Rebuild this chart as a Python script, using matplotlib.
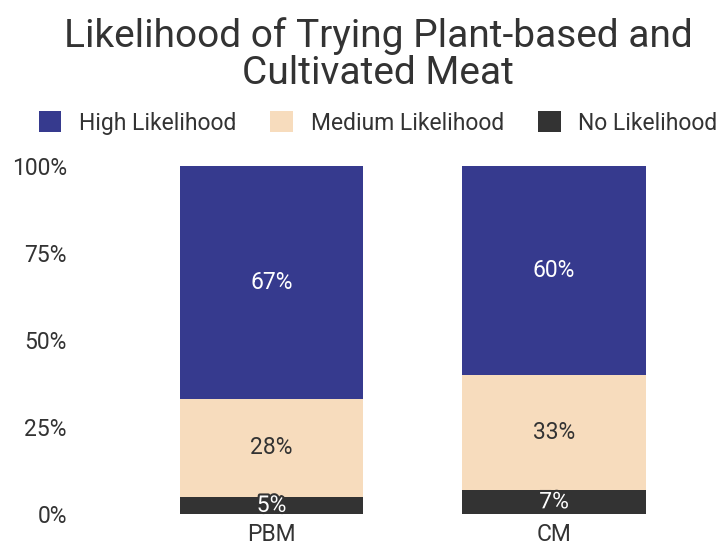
import matplotlib.pyplot as plt
import matplotlib.patheffects as pe
from matplotlib.patches import Patch

plt.rcParams['font.family'] = ['Roboto', 'DejaVu Sans']

categories = ['PBM', 'CM']
no_likelihood = [5, 7]
medium_likelihood = [28, 33]
high_likelihood = [67, 60]
series_names = ['High Likelihood', 'Medium Likelihood', 'No Likelihood']
yticks = [0, 25, 50, 75, 100]

colors = {'High Likelihood': '#363a8e',
          'Medium Likelihood': '#f7dcbd',
          'No Likelihood': '#333333'}
label_colors = {'High Likelihood': 'white',
                'Medium Likelihood': '#333333',
                'No Likelihood': 'white'}
text_color = '#333333'

fig = plt.figure(figsize=(7.16, 5.46), dpi=100)
ax = fig.add_axes([80 / 716, 32 / 546, 630 / 716, 348 / 546])

x = list(range(len(categories)))
w = 0.65
stack = [('No Likelihood', no_likelihood),
         ('Medium Likelihood', medium_likelihood),
         ('High Likelihood', high_likelihood)]
bottom = [0] * len(categories)
for name, vals in stack:
    ax.bar(x, vals, w, bottom=bottom, color=colors[name], linewidth=0)
    for i, v in enumerate(vals):
        t = ax.text(x[i], bottom[i] + v / 2, f'{v}%', ha='center', va='center',
                    color=label_colors[name], fontsize=16.5)
        if name == 'No Likelihood':
            t.set_path_effects([pe.withStroke(linewidth=3, foreground='#333333')])
    bottom = [b + v for b, v in zip(bottom, vals)]

ax.set_ylim(0, 100)
ax.set_xlim(-0.678, 1.552)
ax.set_yticks(yticks)
ax.set_yticklabels([f'{t}%' for t in yticks])
ax.set_xticks(x)
ax.set_xticklabels(categories)
ax.tick_params(length=0, labelsize=16.5, colors=text_color)
ax.tick_params(axis='y', pad=9.5)
ax.tick_params(axis='x', pad=6.5)
for s in ax.spines.values():
    s.set_visible(False)

handles = [Patch(facecolor=colors[n], label=n) for n in series_names]
fig.legend(handles=handles, loc='center', bbox_to_anchor=(0.528, 1 - 123 / 546),
           ncol=3, frameon=False, fontsize=16.5, handlelength=1.0, handleheight=1.0,
           columnspacing=1.5, handletextpad=0.75, labelcolor=text_color)

fig.suptitle('Likelihood of Trying Plant-based and\nCultivated Meat', x=0.528,
             y=1 - 17 / 546, va='top', fontsize=28, color=text_color,
             linespacing=1.0)

fig.savefig('out.png', dpi=100)
